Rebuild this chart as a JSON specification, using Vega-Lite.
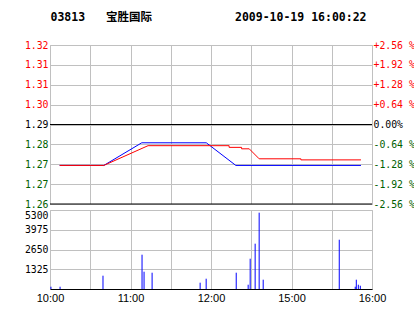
{
  "$schema": "https://vega.github.io/schema/vega-lite/v6.json",
  "background": "white",
  "padding": {"left": 5, "top": 12, "right": 0, "bottom": 0},
  "title": {
    "text": "03813\u00a0\u00a0\u00a0宝胜国际\u00a0\u00a0\u00a0\u00a0\u00a0\u00a0\u00a0\u00a0\u00a0\u00a0\u00a0\u00a02009-10-19\u00a016:00:22",
    "font": "DejaVu Sans Mono, Noto Sans CJK SC",
    "fontWeight": "bold",
    "fontSize": 11.5,
    "color": "black",
    "anchor": "start",
    "frame": "bounds",
    "dx": 45,
    "offset": 16
  },
  "config": {
    "view": {"stroke": "#c0c0c0", "strokeWidth": 1},
    "axis": {"gridColor": "#c0c0c0", "gridOpacity": 1, "gridWidth": 1, "labelOverlap": false}
  },
  "spacing": -1,
  "vconcat": [
    {
      "width": 322,
      "height": 159,
      "layer": [
        {
          "data": {"values": [
            {"s": "blue", "i": 0, "t": 7.2, "p": 1.2730},
            {"s": "blue", "i": 1, "t": 40.1, "p": 1.2730},
            {"s": "blue", "i": 2, "t": 68.4, "p": 1.2824},
            {"s": "blue", "i": 3, "t": 116.5, "p": 1.2824},
            {"s": "blue", "i": 4, "t": 138.5, "p": 1.2730},
            {"s": "blue", "i": 5, "t": 231.8, "p": 1.2730},
            {"s": "red", "i": 0, "t": 7.2, "p": 1.2730},
            {"s": "red", "i": 1, "t": 40.1, "p": 1.2730},
            {"s": "red", "i": 2, "t": 73.1, "p": 1.2812},
            {"s": "red", "i": 3, "t": 133.5, "p": 1.2812},
            {"s": "red", "i": 4, "t": 133.5, "p": 1.2805},
            {"s": "red", "i": 5, "t": 142.8, "p": 1.2805},
            {"s": "red", "i": 6, "t": 142.8, "p": 1.2799},
            {"s": "red", "i": 7, "t": 148.5, "p": 1.2799},
            {"s": "red", "i": 8, "t": 155.9, "p": 1.27575},
            {"s": "red", "i": 9, "t": 187.0, "p": 1.27575},
            {"s": "red", "i": 10, "t": 187.0, "p": 1.2753},
            {"s": "red", "i": 11, "t": 231.8, "p": 1.2753}
          ]},
          "mark": {"type": "line", "strokeWidth": 1},
          "encoding": {
            "x": {
              "field": "t", "type": "quantitative",
              "scale": {"domain": [0, 240], "nice": false, "zero": false},
              "axis": {"values": [0, 30, 60, 90, 120, 150, 180, 210, 240], "labels": false, "ticks": false, "domain": false, "grid": true, "title": null, "minExtent": 0, "maxExtent": 0}
            },
            "y": {
              "field": "p", "type": "quantitative",
              "scale": {"domain": [1.256976, 1.323024], "nice": false, "zero": false},
              "axis": {
                "orient": "left",
                "values": [1.256976, 1.265232, 1.273488, 1.281744, 1.29, 1.298256, 1.306512, 1.314768, 1.323024],
                "format": ".2f",
                "title": null,
                "grid": true,
                "ticks": false,
                "domain": false,
                "labelFont": "DejaVu Sans Mono",
                "labelFontSize": 9.8,
                "labelPadding": 2,
                "labelFlush": false,
                "minExtent": 44,
                "maxExtent": 44,
                "labelColor": {"condition": [{"test": "datum.value > 1.2901", "value": "#ff0000"}, {"test": "datum.value < 1.2899", "value": "#006000"}], "value": "#000000"}
              }
            },
            "color": {"field": "s", "type": "nominal", "scale": {"domain": ["blue", "red"], "range": ["#0000ff", "#ff0000"]}, "legend": null},
            "order": {"field": "i", "type": "quantitative"}
          }
        },
        {
          "data": {"values": [{"q": 0}, {"q": -2.56}]},
          "mark": {"type": "rule", "color": "black", "strokeWidth": 1.2},
          "encoding": {
            "y": {
              "field": "q", "type": "quantitative",
              "scale": {"domain": [-2.56, 2.56], "nice": false, "zero": false},
              "axis": {
                "orient": "right",
                "values": [-2.56, -1.92, -1.28, -0.64, 0, 0.64, 1.28, 1.92, 2.56],
                "labelExpr": "datum.value > 0.001 ? '+' + format(datum.value, '.2f') + '\u00a0%' : datum.value < -0.001 ? '-' + format(abs(datum.value), '.2f') + '\u00a0%' : '\u00a00.00%'",
                "title": null,
                "grid": false,
                "ticks": false,
                "domain": false,
                "labelFont": "DejaVu Sans Mono",
                "labelFontSize": 9.8,
                "labelPadding": 1,
                "labelFlush": false,
                "labelColor": {"condition": [{"test": "datum.value > 0.001", "value": "#ff0000"}, {"test": "datum.value < -0.001", "value": "#006000"}], "value": "#000000"}
              }
            }
          }
        }
      ],
      "resolve": {"scale": {"y": "independent"}}
    },
    {
      "width": 322,
      "height": 79,
      "data": {"values": [
        {"t": 0.7, "v": 154},
        {"t": 7.5, "v": 154},
        {"t": 39.5, "v": 893},
        {"t": 68.6, "v": 2301},
        {"t": 70.1, "v": 1160},
        {"t": 76.1, "v": 1093},
        {"t": 111.9, "v": 423},
        {"t": 116.4, "v": 690},
        {"t": 138.8, "v": 1093},
        {"t": 147.7, "v": 288},
        {"t": 149.2, "v": 2033},
        {"t": 152.9, "v": 3040},
        {"t": 155.9, "v": 5120},
        {"t": 158.9, "v": 624},
        {"t": 215.6, "v": 3307},
        {"t": 227.5, "v": 154},
        {"t": 228.3, "v": 624},
        {"t": 229.8, "v": 288},
        {"t": 231.3, "v": 220}
      ]},
      "mark": {"type": "rule", "color": "#0000ff", "strokeWidth": 1},
      "encoding": {
        "x": {
          "field": "t", "type": "quantitative",
          "scale": {"domain": [0, 240], "nice": false, "zero": false},
          "axis": {
            "values": [0, 30, 60, 90, 120, 150, 180, 210, 240],
            "labelExpr": "datum.value == 0 ? '10:00' : datum.value == 60 ? '11:00' : datum.value == 120 ? '12:00' : datum.value == 180 ? '15:00' : datum.value == 240 ? '16:00' : ''",
            "title": null,
            "grid": true,
            "ticks": false,
            "domain": true,
            "domainColor": "#000000",
            "domainWidth": 1.2,
            "labelFont": "Liberation Sans",
            "labelFontSize": 11,
            "labelColor": "#000000",
            "labelPadding": 3,
            "labelFlush": false
          }
        },
        "y": {
          "field": "v", "type": "quantitative",
          "scale": {"domain": [0, 5300], "nice": false},
          "axis": {
            "values": [1325, 2650, 3975, 5300],
            "format": "d",
            "title": null,
            "grid": true,
            "ticks": false,
            "domain": false,
            "labelFont": "DejaVu Sans Mono",
            "labelFontSize": 9.8,
            "labelColor": "#000000",
            "labelPadding": 2,
            "labelFlush": true,
            "minExtent": 44,
            "maxExtent": 44
          }
        },
        "y2": {"datum": 0}
      }
    }
  ]
}
